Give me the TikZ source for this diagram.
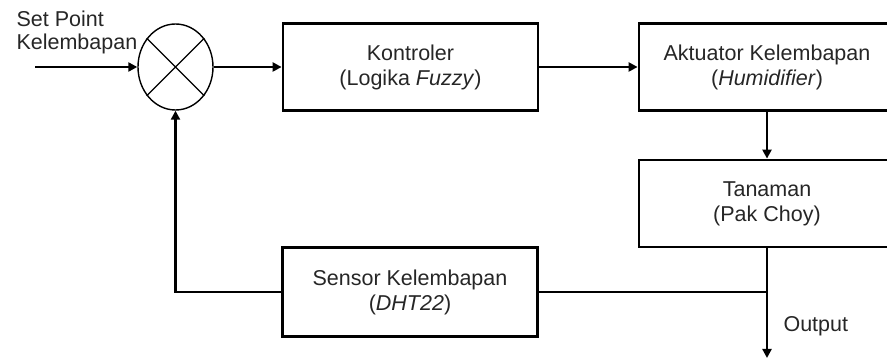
\documentclass[tikz,border=0pt]{standalone}
\usepackage{fontspec}
\setmainfont{Liberation Sans}
\usetikzlibrary{arrows.meta,shapes.geometric}
\begin{document}
\begin{tikzpicture}[x=1pt,y=-1pt,
  txt/.style={font=\fontsize{21.5}{25}\selectfont, text=black!85},
  blk/.style={txt, draw=black, line width=2.8pt, align=center, inner sep=0pt},
  conn/.style={line width=2.3pt, draw=black},
  arr/.style={conn, -{Triangle[length=9pt,width=9pt]}}]
\useasboundingbox (0,0) rectangle (887,363);
\clip (0,0) rectangle (887,363);
\node[draw, ellipse, line width=1.4pt, minimum width=75pt, minimum height=86pt, inner sep=0pt] (sum) at (175.5,67) {};
\draw[line width=1.4pt] (sum.45) -- (sum.225) (sum.135) -- (sum.315);
\node[blk, minimum width=255pt, minimum height=87pt] (ctl) at (410.5,67) {Kontroler\\(Logika \textit{Fuzzy})};
\node[blk, minimum width=256pt, minimum height=87pt] (act) at (767,67) {Aktuator Kelembapan\\(\textit{Humidifier})};
\node[blk, minimum width=256pt, minimum height=87pt] (pl) at (767,203.5) {Tanaman\\(Pak Choy)};
\node[blk, minimum width=255pt, minimum height=89pt] (sen) at (410,292) {Sensor Kelembapan\\(\textit{DHT22})};
\node[txt, anchor=base west, align=left] (sp) at (13,27) {Set Point};
\node[txt, anchor=base west, align=left] (sp2) at (13,50) {Kelembapan};
\node[txt, anchor=base west] (out) at (780,332) {Output};
\coordinate (in) at (35,67);
\coordinate (j) at (767,292);
\coordinate (end) at (767,358);
\draw[arr] (in) -- (sum.west);
\draw[arr] (sum.east) -- (ctl.west);
\draw[arr] (ctl.east) -- (act.west);
\draw[arr] (act.south) -- (pl.north);
\draw[arr] (pl.south) -- (end);
\draw[conn] (j) -- (sen.east);
\draw[arr] (sen.west) -| (sum.south);
\end{tikzpicture}
\end{document}
